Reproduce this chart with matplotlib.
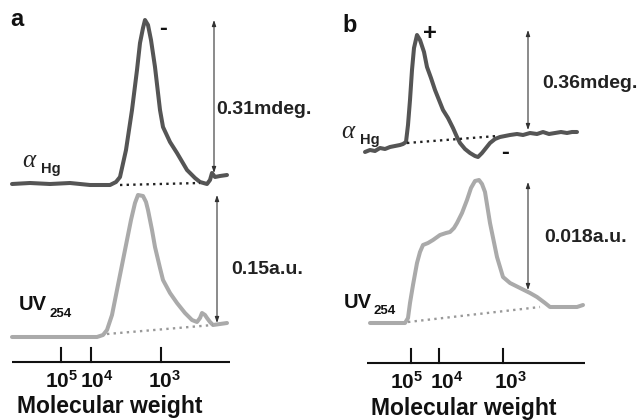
import matplotlib
matplotlib.use("Agg")
import matplotlib.pyplot as plt

plt.rcParams['font.family'] = ['Liberation Sans', 'DejaVu Sans']
plt.rcParams['mathtext.fontset'] = 'custom'
plt.rcParams['mathtext.rm'] = 'Liberation Sans:bold'
plt.rcParams['mathtext.bf'] = 'Liberation Sans:bold'
plt.rcParams['mathtext.it'] = 'Liberation Serif:italic'

# ---- data (figure pixel units, y downward) ----
a_alpha_x = [12, 30, 50, 70, 90, 110, 116, 120, 126, 132, 137, 140, 143, 145, 148, 151, 155, 160, 163, 170, 177, 187, 195, 200, 207, 210, 212, 215, 220, 227]
a_alpha_y = [184, 183, 184, 183, 185, 185, 182, 177, 150, 110, 70, 43, 28, 20, 25, 40, 67, 110, 127, 142, 153, 170, 178, 182, 184, 180, 173, 177, 176, 175]
a_uv_x = [12, 40, 70, 97, 103, 107, 112, 117, 122, 127, 131, 135, 138, 143, 146, 148, 152, 155, 160, 163, 170, 177, 185, 192, 197, 200, 202, 205, 207, 210, 213, 220, 227]
a_uv_y = [337, 337, 337, 337, 335, 330, 315, 290, 265, 240, 220, 203, 195, 196, 202, 210, 230, 247, 268, 280, 293, 303, 313, 320, 322, 318, 313, 315, 318, 322, 325, 324, 323]
b_alpha_x = [365, 370, 375, 380, 385, 390, 395, 400, 403, 406, 408, 410, 412, 414, 417, 420, 424, 427, 431, 435, 439, 443, 448, 453, 457, 460, 465, 470, 475, 478, 482, 486, 490, 495, 500, 505, 510, 517, 523, 530, 537, 543, 549, 555, 561, 567, 572, 577]
b_alpha_y = [152, 150, 151, 148, 149, 147, 146, 145, 144, 142, 125, 100, 70, 48, 35, 40, 52, 67, 78, 90, 100, 110, 118, 128, 137, 143, 149, 153, 156, 157, 153, 148, 143, 139, 137, 136, 135, 134, 135, 133, 134, 132, 134, 133, 132, 133, 132, 132]
b_uv_x = [370, 385, 405, 408, 410, 413, 417, 420, 423, 428, 433, 440, 446, 450, 454, 457, 462, 467, 471, 475, 479, 482, 485, 490, 497, 503, 510, 520, 530, 537, 545, 550, 560, 570, 577, 583]
b_uv_y = [323, 323, 323, 318, 303, 285, 263, 252, 245, 243, 240, 235, 233, 232, 228, 223, 213, 200, 188, 181, 180, 184, 192, 223, 257, 277, 283, 288, 293, 297, 303, 307, 307, 307, 307, 305]

a_alpha_base = ([120, 200], [185, 183])
a_uv_base = ([107, 213], [334, 325])
b_alpha_base = ([407, 497], [143, 136])
b_uv_base = ([408, 540], [322, 307])

a_ticks_x = [61, 91, 161]
b_ticks_x = [411, 439, 503]
tick_labels = [r'$\mathbf{10^5}$', r'$\mathbf{10^4}$', r'$\mathbf{10^3}$']

dark = '#555555'
light = '#aaaaaa'

fig = plt.figure(figsize=(6.38, 4.2), dpi=100)
ax = fig.add_axes([0, 0, 1, 1])
ax.set_xlim(0, 638)
ax.set_ylim(420, 0)
ax.axis('off')

lw = 2.9
for xs, ys, c in [(a_alpha_x, a_alpha_y, dark), (a_uv_x, a_uv_y, light),
                  (b_alpha_x, b_alpha_y, dark), (b_uv_x, b_uv_y, light)]:
    ax.plot(xs, ys, color=c, lw=lw, solid_joinstyle='round', solid_capstyle='round')

ax.plot(*a_alpha_base, color='#222222', lw=1.7, ls=(0, (1, 1.8)))
ax.plot(*b_alpha_base, color='#222222', lw=1.7, ls=(0, (1, 1.8)))
ax.plot(*a_uv_base, color='#999999', lw=1.7, ls=(0, (1, 1.8)))
ax.plot(*b_uv_base, color='#999999', lw=1.7, ls=(0, (1, 1.8)))

def dim_arrow(x, y0, y1):
    ax.annotate('', xy=(x, y0), xytext=(x, y1),
                arrowprops=dict(arrowstyle='<|-|>,head_length=0.35,head_width=0.12',
                                color='#333333', lw=0.8, shrinkA=0, shrinkB=0))

dim_arrow(214, 20, 173)
dim_arrow(217, 195, 323)
dim_arrow(528, 30, 130)
dim_arrow(528, 182, 290)

fs = 14
ax.text(216, 110, '0.31mdeg.', fontsize=fs, fontweight='bold', va='center', ha='left', color='#222222')
ax.text(231, 270, '0.15a.u.', fontsize=fs, fontweight='bold', va='center', ha='left', color='#222222')
ax.text(542, 83, '0.36mdeg.', fontsize=fs, fontweight='bold', va='center', ha='left', color='#222222')
ax.text(544, 238, '0.018a.u.', fontsize=fs, fontweight='bold', va='center', ha='left', color='#222222')

ax.text(10, 20, 'a', fontsize=17, fontweight='bold', va='center', ha='left', color='#111111')
ax.text(342, 25, 'b', fontsize=17, fontweight='bold', va='center', ha='left', color='#111111')

ax.text(163, 28, '-', fontsize=17, fontweight='bold', va='center', ha='center', color='#111111')
ax.text(430, 33, '+', fontsize=17, fontweight='bold', va='center', ha='center', color='#111111')
ax.text(505, 152, '-', fontsize=17, fontweight='bold', va='center', ha='center', color='#111111')

for (x, y) in [(22, 160), (341, 131)]:
    ax.text(x, y, r'$\mathit{\alpha}$', fontsize=18, va='center', ha='left', color='#222222')
    ax.text(x + 19, y + 9, 'Hg', fontsize=10.5, fontweight='bold', va='center', ha='left', color='#222222')
for (x, y) in [(19, 305), (344, 302)]:
    ax.text(x, y, 'UV', fontsize=14.5, fontweight='bold', va='center', ha='left', color='#111111')
    ax.text(x + 30, y + 9, '254', fontsize=9.5, fontweight='bold', va='center', ha='left', color='#111111')

label_shift = [(1, 6, 4), (-4, 8, 8)]
mw_center = [110, 464]
for i, (x0, x1, y, ticks) in enumerate([(12, 230, 362, a_ticks_x), (367, 585, 363, b_ticks_x)]):
    ax.plot([x0, x1], [y, y], color='#111111', lw=1.5, solid_capstyle='butt')
    for tx, lab, dx in zip(ticks, tick_labels, label_shift[i]):
        ax.plot([tx, tx], [y, y - 14], color='#111111', lw=1.5)
        ax.text(tx + dx, y + 19, lab, fontsize=15, va='center', ha='center', color='#111111')
    ax.text(mw_center[i], y + 45, 'Molecular weight', fontsize=16.5,
            fontweight='bold', va='center', ha='center', color='#111111')

fig.savefig('out.png', dpi=100)
